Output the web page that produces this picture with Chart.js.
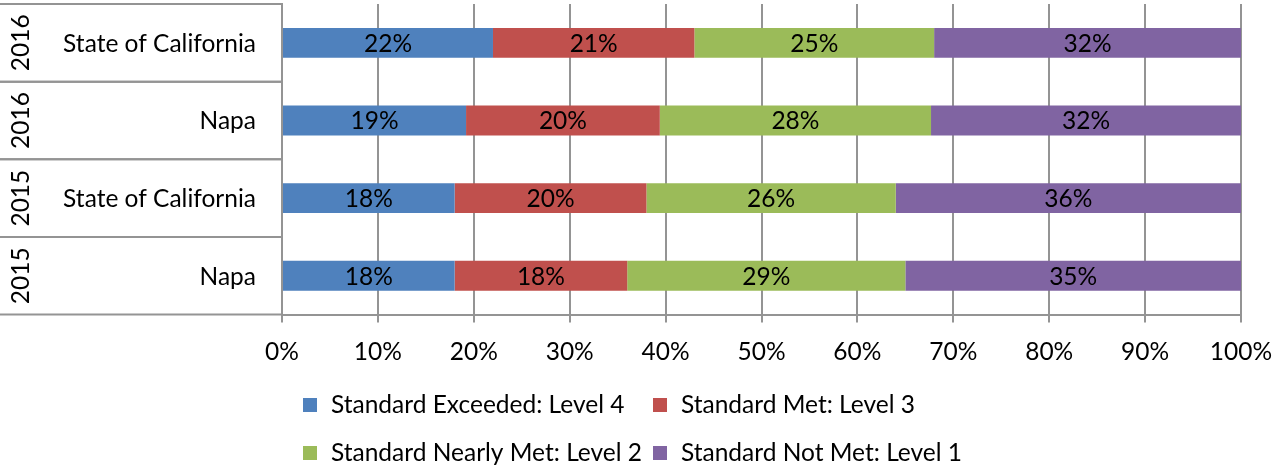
<!DOCTYPE html>
<html>
<head>
<meta charset="utf-8">
<script src="https://cdn.jsdelivr.net/npm/chart.js@4/dist/chart.umd.min.js"></script>
<style>
	html, body { margin: 0; padding: 0; background: #fff; }
	#wrap { width: 1273px; height: 466px; position: relative; }
</style>
</head>
<body>
<div id="wrap"><canvas id="myChart"></canvas></div>
<script>
!(function(){
	'use strict';

	// categories (top to bottom)
	var years = ['2016', '2016', '2015', '2015'];
	var places = ['State of California', 'Napa', 'State of California', 'Napa'];

	// percent of students per level
	var exceeded = [22, 19, 18, 18];
	var met = [21, 20, 20, 18];
	var nearlyMet = [25, 28, 26, 29];
	var notMet = [32, 32, 36, 35];

	var seriesNames = ['Standard Exceeded: Level 4', 'Standard Met: Level 3', 'Standard Nearly Met: Level 2', 'Standard Not Met: Level 1'];
	var seriesColors = ['#4f81bd', '#c0504d', '#9bbb59', '#8064a2'];
	var xTicks = [0, 10, 20, 30, 40, 50, 60, 70, 80, 90, 100];

	var FONT = 'Lato, "Open Sans", sans-serif';
	var FONT_SIZE = 24.5;
	var GRID = '#949494';

	var series = [exceeded, met, nearlyMet, notMet];

	// 100% stacking: each row is scaled to its own total
	var totals = years.map(function(y, i){
		return series.reduce(function(s, arr){ return s + arr[i]; }, 0);
	});

	var datasets = series.map(function(arr, k){
		return {
			label: seriesNames[k],
			raw: arr,
			data: arr.map(function(v, i){ return v / totals[i] * 100; }),
			backgroundColor: seriesColors[k],
			borderWidth: 0,
			barPercentage: 0.385,
			categoryPercentage: 1
		};
	});

	// value labels in the middle of each segment
	var segmentLabels = {
		id: 'segmentLabels',
		afterDatasetsDraw: function(chart){
			var ctx = chart.ctx;
			ctx.save();
			ctx.font = FONT_SIZE + 'px ' + FONT;
			ctx.fillStyle = '#000';
			ctx.textAlign = 'center';
			ctx.textBaseline = 'middle';
			chart.data.datasets.forEach(function(ds, k){
				chart.getDatasetMeta(k).data.forEach(function(bar, i){
					ctx.fillText(ds.raw[i] + '%', (bar.x + bar.base) / 2, bar.y + 1);
				});
			});
			ctx.restore();
		}
	};

	// two-level category labels: year (rotated) + place, boxed by lines
	var categoryBox = {
		id: 'categoryBox',
		afterDraw: function(chart){
			var ctx = chart.ctx;
			var yScale = chart.scales.y;
			var left = chart.chartArea.left;
			ctx.save();
			ctx.strokeStyle = GRID;
			ctx.lineWidth = 2;
			ctx.font = FONT_SIZE + 'px ' + FONT;
			ctx.fillStyle = '#000';
			ctx.textBaseline = 'middle';
			years.forEach(function(year, i){
				var top = yScale.getPixelForValue(i - 0.5);
				var bottom = yScale.getPixelForValue(i + 0.5);
				var mid = (top + bottom) / 2;
				ctx.beginPath();
				ctx.moveTo(0, top);
				ctx.lineTo(left, top);
				ctx.moveTo(0, bottom);
				ctx.lineTo(left, bottom);
				ctx.stroke();

				ctx.textAlign = 'right';
				ctx.fillText(places[i], 256, mid + 1);

				ctx.save();
				ctx.translate(21, mid);
				ctx.rotate(-Math.PI / 2);
				ctx.textAlign = 'center';
				ctx.fillText(year, 0, 0);
				ctx.restore();
			});
			ctx.restore();
		}
	};

	// legend laid out in two aligned columns under the axis
	var gridLegend = {
		id: 'gridLegend',
		afterDraw: function(chart){
			var ctx = chart.ctx;
			var colX = [303, 653];
			var rowY = [405, 453];
			var box = 14;
			ctx.save();
			ctx.font = FONT_SIZE + 'px ' + FONT;
			ctx.textAlign = 'left';
			ctx.textBaseline = 'middle';
			chart.data.datasets.forEach(function(ds, k){
				var x = colX[k % 2];
				var y = rowY[Math.floor(k / 2)];
				ctx.fillStyle = ds.backgroundColor;
				ctx.fillRect(x, y - box / 2, box, box);
				ctx.fillStyle = '#000';
				ctx.fillText(ds.label, x + 28, y);
			});
			ctx.restore();
		}
	};

	var ctx = document.getElementById('myChart').getContext('2d');
	var myChart = new Chart(ctx, {
		type: 'bar',
		data: {
			labels: places,
			datasets: datasets
		},
		options: {
			indexAxis: 'y',
			responsive: true,
			maintainAspectRatio: false,
			animation: false,
			layout: {
				padding: { left: 0, right: 32, top: 4, bottom: 84 }
			},
			plugins: {
				legend: { display: false },
				tooltip: { enabled: false }
			},
			scales: {
				x: {
					stacked: true,
					min: 0,
					max: 100,
					afterBuildTicks: function(scale){
						scale.ticks = xTicks.map(function(v){ return { value: v }; });
					},
					afterFit: function(scale){
						scale.paddingLeft = 0;
						scale.paddingRight = 0;
					},
					ticks: {
						color: '#000',
						padding: 15,
						font: { family: FONT, size: FONT_SIZE },
						callback: function(v){ return v + '%'; }
					},
					grid: {
						color: GRID,
						lineWidth: 2,
						tickLength: 8
					},
					border: { color: GRID, width: 2 }
				},
				y: {
					stacked: true,
					afterFit: function(scale){ scale.width = 282; },
					ticks: { display: false },
					grid: { display: false },
					border: { color: GRID, width: 2 }
				}
			}
		},
		plugins: [segmentLabels, categoryBox, gridLegend]
	});
})();
</script>
</body>
</html>
